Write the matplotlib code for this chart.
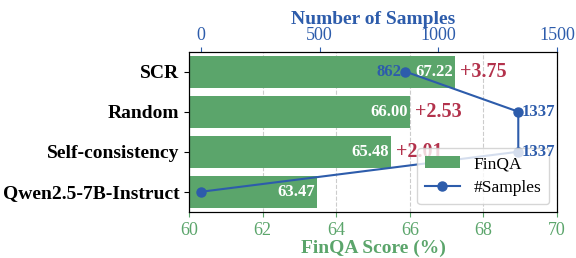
import matplotlib.pyplot as plt

plt.rcParams['font.family'] = ['Liberation Serif', 'DejaVu Serif']

# Dados
methods = ['SCR', 'Random', 'Self-consistency', 'Qwen2.5-7B-Instruct']
scores = [67.22, 66.00, 65.48, 63.47]
gains = ['+3.75', '+2.53', '+2.01', '']
samples = [862, 1337, 1337, 0]

green = '#5ba56b'
blue = '#2d5cab'
red = '#b3324c'

fig = plt.figure(figsize=(5.76, 2.58), dpi=100)
ax = fig.add_axes([0.328, 0.179, 0.639, 0.621])

y = list(range(len(methods)))
ax.barh(y, [s - 60 for s in scores], left=60, height=0.8, color=green, label='FinQA', zorder=2)
ax.set_xlim(60, 70)
ax.set_ylim(3.5, -0.5)
ax.set_yticks(y)
ax.set_yticklabels(methods, fontsize=14, fontweight='bold')
ax.set_xticks([60, 62, 64, 66, 68, 70])
ax.tick_params(axis='x', colors=green, labelsize=13)
ax.set_xlabel('FinQA Score (%)', color=green, fontsize=14, fontweight='bold', labelpad=1)
ax.grid(axis='x', linestyle='--', color='#cccccc', linewidth=0.8, zorder=0)

# Rótulos das barras
for i, s in enumerate(scores):
    ax.text(s - 0.05, i, f'{s:.2f}', color='white', fontsize=12, fontweight='bold',
            ha='right', va='center', zorder=3)
    if gains[i]:
        ax.text(s + 0.15, i, gains[i], color=red, fontsize=14.5, fontweight='bold',
                ha='left', va='center', zorder=3)

# Eixo superior: número de amostras
ax2 = ax.twiny()
ax2.plot(samples, y, color=blue, marker='o', markersize=6.5, linewidth=1.5, label='#Samples', zorder=4)
ax2.set_xlim(-50, 1500)
ax2.set_xticks([0, 500, 1000, 1500])
ax2.tick_params(axis='x', colors=blue, labelsize=13, pad=2)
ax2.set_xlabel('Number of Samples', color=blue, fontsize=14, fontweight='bold', labelpad=2)

h1, l1 = ax.get_legend_handles_labels()
h2, l2 = ax2.get_legend_handles_labels()
leg = ax2.legend(h1 + h2, l1 + l2, loc='lower right', fontsize=12.5, framealpha=0.8,
                 labelspacing=0.45, borderaxespad=0.45, borderpad=0.45)
leg.set_zorder(5)

for i, n in enumerate(samples):
    if n == 0:
        continue
    if i == 0:
        ax2.text(n - 18, i, str(n), color=blue, fontsize=12, fontweight='bold',
                 ha='right', va='center', zorder=7)
    else:
        ax2.text(n + 12, i, str(n), color=blue, fontsize=12, fontweight='bold',
                 ha='left', va='center', zorder=7)

plt.savefig('out.png', dpi=100)
